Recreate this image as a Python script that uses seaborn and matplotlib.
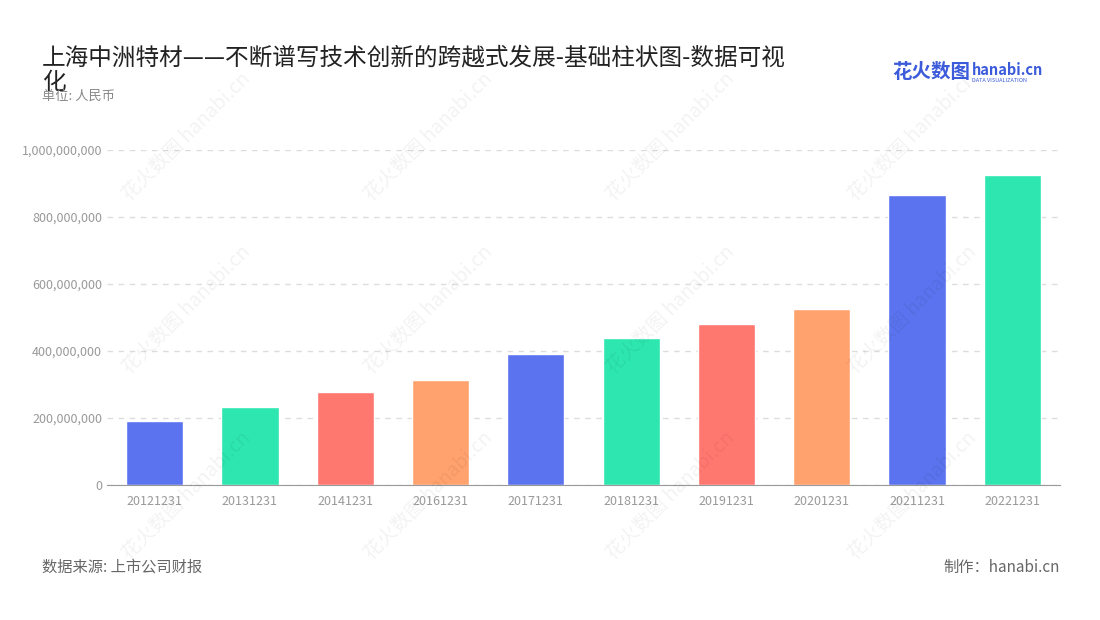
import matplotlib
matplotlib.use("Agg")
import matplotlib.pyplot as plt
import seaborn as sns
import pandas as pd

years = ['20121231', '20131231', '20141231', '20161231', '20171231',
         '20181231', '20191231', '20201231', '20211231', '20221231']
values = [191e6, 233e6, 277e6, 313e6, 390e6, 438e6, 480e6, 525e6, 865e6, 925e6]
colors = ['#5B73EE', '#2DE6B0', '#FF7870', '#FFA26E', '#5B73EE',
          '#2DE6B0', '#FF7870', '#FFA26E', '#5B73EE', '#2DE6B0']

sns.set_style("white")
plt.rcParams['font.family'] = ['Noto Sans CJK SC', 'DejaVu Sans']

df = pd.DataFrame({'date': years, 'value': values})
fig = plt.figure(figsize=(11, 6.2), dpi=100)
ax = fig.add_axes([107 / 1100, 1 - 485 / 620, 953 / 1100, 335 / 620])
sns.barplot(data=df, x='date', y='value', hue='date', palette=colors,
            legend=False, width=0.6, saturation=1, ax=ax)

ax.set_ylim(0, 1e9)
ax.set_yticks([0, 2e8, 4e8, 6e8, 8e8, 1e9])
ax.set_yticklabels([f'{int(v):,}' for v in ax.get_yticks()])
ax.yaxis.grid(True, linestyle=(0, (4, 4)), color='#dddddd', lw=1)
ax.set_axisbelow(True)
for s in ['top', 'right', 'left']:
    ax.spines[s].set_visible(False)
ax.spines['bottom'].set_color('#999999')
ax.tick_params(axis='both', colors='#999999', labelsize=9, length=0)
ax.tick_params(axis='x', length=4, color='#999999')
ax.set_xlabel('')
ax.set_ylabel('')

# watermarks
for wx in [0.12, 0.34, 0.56, 0.78]:
    for wy in [0.78, 0.5, 0.2]:
        fig.text(wx + 0.05, wy, '花火数图 hanabi.cn', rotation=45, fontsize=14,
                 color='#000000', alpha=0.05, ha='center', va='center')

fig.text(42 / 1100, 1 - 70 / 620, '上海中洲特材——不断谱写技术创新的跨越式发展-基础柱状图-数据可视\n化',
         fontsize=17, color='#222222', va='center', linespacing=1.1)
fig.text(42 / 1100, 1 - 96 / 620, '单位: 人民币', fontsize=9.5, color='#888888', va='center')
fig.text(892 / 1100, 1 - 72 / 620, '花火数图', fontsize=14, color='#3B5BDB',
         fontweight='bold', va='center')
fig.text(972 / 1100, 1 - 70 / 620, 'hanabi.cn', fontsize=10.5, color='#3B5BDB',
         fontweight='bold', va='center')
fig.text(972 / 1100, 1 - 80 / 620, 'DATA VISUALIZATION', fontsize=4, color='#3B5BDB', va='center')
fig.text(42 / 1100, 1 - 567 / 620, '数据来源: 上市公司财报', fontsize=11, color='#666666', va='center')
fig.text(1060 / 1100, 1 - 567 / 620, '制作：hanabi.cn', fontsize=11, color='#666666',
         va='center', ha='right')

fig.savefig('out.png', dpi=100)
